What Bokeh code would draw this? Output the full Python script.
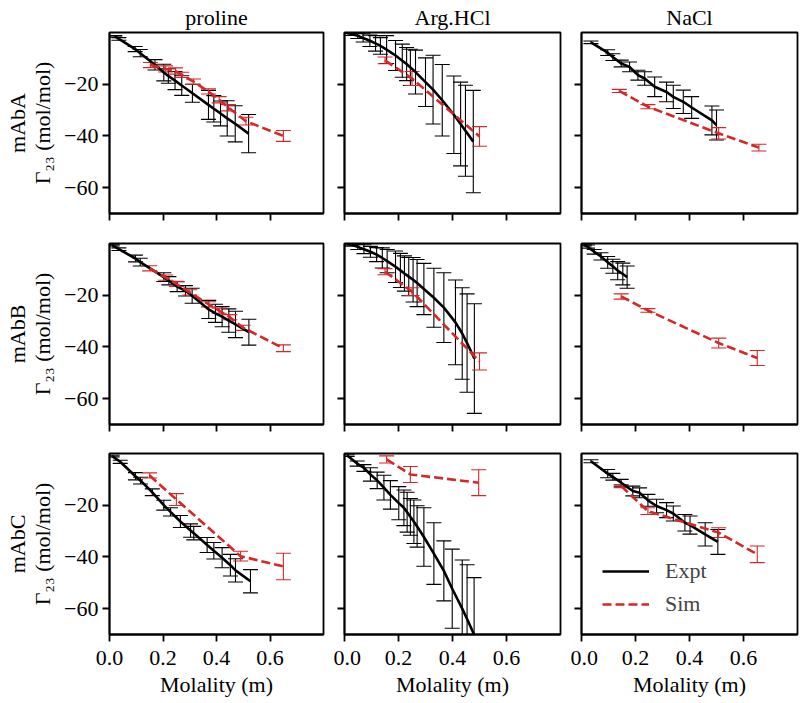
from bokeh.plotting import figure
from bokeh.layouts import gridplot
from bokeh.models import (Range1d, FixedTicker, CustomJSTickFormatter, Legend, LegendItem)
from bokeh.embed import file_html
from bokeh.resources import INLINE

FONT = "Liberation Serif"
FS = "22px"
RED = "#d62728"

solutes = ["proline", "Arg.HCl", "NaCl"]
mabs = ["mAbA", "mAbB", "mAbC"]
x_ticks = [0.0, 0.2, 0.4, 0.6]
y_ticks = [-60, -40, -20]
x_label = "Molality (m)"
y_unit = "Γ₂₃ (mol/mol)"

# ---------------- proline ----------------
pro_A_expt_x = [0.02, 0.035, 0.096, 0.115, 0.17, 0.203, 0.22, 0.245, 0.27, 0.31, 0.37, 0.39, 0.415, 0.44, 0.47, 0.52]
pro_A_expt_y = [-1.5, -2.5, -6.4, -8.0, -12.5, -15.5, -16.8, -18.6, -20.5, -23.5, -28.0, -29.5, -31.3, -33.2, -35.3, -39.1]
pro_A_expt_e = [0.3, 0.5, 1.0, 1.4, 2.0, 3.2, 2.8, 3.5, 3.8, 3.5, 5.6, 5.1, 4.8, 6.8, 7.0, 7.4]
pro_A_sim_x = [0.153, 0.21, 0.247, 0.27, 0.314, 0.37, 0.41, 0.445, 0.51, 0.65]
pro_A_sim_y = [-12.6, -14.1, -14.9, -16.4, -19.0, -22.8, -26.0, -29.1, -34.3, -40.0]
pro_A_sim_e = [1.0, 1.2, 1.2, 1.0, 1.0, 1.0, 1.2, 1.2, 1.5, 2.1]

pro_B_expt_x = [0.01, 0.035, 0.097, 0.115, 0.203, 0.222, 0.253, 0.284, 0.309, 0.371, 0.396, 0.421, 0.446, 0.471, 0.521]
pro_B_expt_y = [-0.6, -2.2, -5.8, -7.2, -13.0, -14.4, -16.7, -18.3, -20.2, -25.5, -27.0, -28.3, -29.8, -31.3, -34.3]
pro_B_expt_e = [0.3, 0.5, 1.3, 1.5, 1.7, 1.6, 1.9, 2.0, 2.9, 3.5, 3.5, 3.9, 4.5, 5.1, 5.0]
pro_B_sim_x = [0.15, 0.21, 0.25, 0.3, 0.37, 0.41, 0.45, 0.5, 0.65]
pro_B_sim_y = [-9.6, -13.2, -15.6, -18.9, -23.5, -26.0, -28.5, -32.6, -40.5]
pro_B_sim_e = [1.0, 1.0, 1.0, 1.0, 1.0, 1.0, 1.0, 1.0, 1.3]

pro_C_expt_x = [0.01, 0.04, 0.097, 0.116, 0.16, 0.203, 0.228, 0.265, 0.303, 0.315, 0.365, 0.39, 0.421, 0.452, 0.471, 0.527]
pro_C_expt_y = [-1.0, -3.2, -8.8, -10.5, -15.0, -20.0, -22.6, -26.3, -29.8, -30.8, -35.4, -37.6, -40.3, -43.2, -45.2, -49.4]
pro_C_expt_e = [0.3, 0.6, 1.4, 1.3, 1.3, 1.9, 1.6, 2.3, 2.6, 2.6, 2.9, 3.2, 3.9, 4.2, 4.5, 4.5]
pro_C_sim_x = [0.15, 0.25, 0.49, 0.65]
pro_C_sim_y = [-8.5, -17.8, -39.7, -43.7]
pro_C_sim_e = [1.0, 2.3, 1.9, 5.1]

# ---------------- Arg.HCl ----------------
arg_A_expt_x = [0.01, 0.028, 0.049, 0.069, 0.094, 0.115, 0.133, 0.156, 0.189, 0.214, 0.23, 0.244, 0.263, 0.30, 0.328, 0.362, 0.405, 0.43, 0.448, 0.477]
arg_A_expt_y = [-0.2, -0.7, -1.3, -2.1, -3.2, -4.2, -5.2, -6.6, -8.9, -10.9, -12.2, -13.5, -15.3, -19.2, -22.1, -26.2, -31.8, -35.4, -38.0, -42.2]
arg_A_expt_e = [0.2, 0.4, 1.0, 1.6, 2.2, 3.0, 3.2, 5.4, 5.8, 6.4, 6.4, 7.0, 8.5, 9.4, 13.3, 13.8, 15.0, 16.2, 17.6, 19.8]
arg_A_sim_x = [0.15, 0.25, 0.5]
arg_A_sim_y = [-10.8, -17.8, -40.2]
arg_A_sim_e = [1.3, 2.7, 3.8]

arg_B_expt_x = [0.012, 0.028, 0.049, 0.072, 0.096, 0.119, 0.14, 0.158, 0.189, 0.207, 0.222, 0.238, 0.254, 0.269, 0.294, 0.331, 0.368, 0.411, 0.436, 0.454, 0.481]
arg_B_expt_y = [-0.2, -0.6, -1.3, -2.2, -3.2, -4.3, -5.6, -6.8, -9.0, -10.4, -11.6, -12.8, -14.0, -15.3, -17.6, -21.0, -24.8, -30.5, -34.8, -38.5, -44.5]
arg_B_expt_e = [0.4, 0.4, 1.0, 1.7, 2.1, 2.7, 3.9, 4.5, 6.1, 6.6, 6.8, 7.4, 8.6, 9.1, 9.9, 11.4, 13.5, 16.4, 17.7, 19.0, 21.2]
arg_B_sim_x = [0.15, 0.25, 0.5]
arg_B_sim_y = [-10.9, -18.6, -45.6]
arg_B_sim_e = [1.2, 1.5, 3.3]

arg_C_expt_x = [0.01, 0.047, 0.072, 0.096, 0.121, 0.146, 0.17, 0.201, 0.22, 0.232, 0.244, 0.257, 0.269, 0.294, 0.331, 0.368, 0.399, 0.436, 0.454, 0.48]
arg_C_expt_y = [-0.8, -3.9, -5.6, -8.1, -10.4, -13.2, -16.0, -19.2, -21.0, -22.7, -24.5, -26.4, -28.2, -32.3, -38.7, -45.4, -52.3, -60.0, -64.0, -70.0]
arg_C_expt_e = [0.3, 1.0, 1.3, 2.6, 3.2, 4.8, 5.5, 6.4, 6.9, 7.7, 7.1, 8.4, 8.0, 11.3, 11.9, 11.6, 15.3, 18.8, 21.0, 22.0]
arg_C_sim_x = [0.156, 0.244, 0.497]
arg_C_sim_y = [-2.3, -8.1, -11.3]
arg_C_sim_e = [1.4, 3.1, 5.0]

# ---------------- NaCl ----------------
nacl_A_expt_x = [0.035, 0.097, 0.116, 0.147, 0.178, 0.209, 0.234, 0.271, 0.315, 0.34, 0.377, 0.408, 0.483, 0.5]
nacl_A_expt_y = [-3.8, -7.8, -9.5, -12.0, -13.3, -16.5, -17.8, -21.0, -23.0, -24.9, -26.8, -29.0, -34.0, -35.8]
nacl_A_expt_e = [0.5, 1.1, 1.3, 1.3, 1.9, 1.9, 2.6, 3.8, 3.8, 4.5, 4.5, 4.2, 5.6, 5.8]
nacl_A_sim_x = [0.14, 0.246, 0.508, 0.657]
nacl_A_sim_y = [-22.6, -28.7, -39.0, -44.5]
nacl_A_sim_e = [0.6, 0.8, 2.2, 1.3]

nacl_B_expt_x = [0.01, 0.022, 0.047, 0.072, 0.097, 0.116, 0.134, 0.153, 0.169]
nacl_B_expt_y = [-0.6, -1.2, -3.2, -5.0, -7.3, -8.8, -10.5, -11.8, -13.0]
nacl_B_expt_e = [0.3, 0.6, 0.9, 1.4, 2.3, 2.7, 3.5, 4.2, 4.3]
nacl_B_sim_x = [0.147, 0.246, 0.508, 0.651]
nacl_B_sim_y = [-20.5, -25.9, -38.5, -44.3]
nacl_B_sim_e = [1.0, 0.7, 1.9, 2.9]

nacl_C_expt_x = [0.035, 0.097, 0.116, 0.147, 0.19, 0.215, 0.246, 0.278, 0.315, 0.34, 0.383, 0.402, 0.458, 0.505]
nacl_C_expt_y = [-3.0, -7.8, -9.0, -11.3, -14.5, -15.2, -18.1, -20.3, -21.9, -23.2, -26.8, -27.7, -31.3, -34.2]
nacl_C_expt_e = [0.6, 1.6, 1.3, 1.3, 1.9, 1.9, 2.3, 2.6, 2.9, 2.9, 3.2, 3.5, 4.5, 4.8]
nacl_C_sim_x = [0.147, 0.246, 0.508, 0.651]
nacl_C_sim_y = [-12.6, -22.3, -30.6, -39.0]
nacl_C_sim_e = [0.6, 1.3, 1.9, 3.2]

panels = [
    [(pro_A_expt_x, pro_A_expt_y, pro_A_expt_e, pro_A_sim_x, pro_A_sim_y, pro_A_sim_e),
     (arg_A_expt_x, arg_A_expt_y, arg_A_expt_e, arg_A_sim_x, arg_A_sim_y, arg_A_sim_e),
     (nacl_A_expt_x, nacl_A_expt_y, nacl_A_expt_e, nacl_A_sim_x, nacl_A_sim_y, nacl_A_sim_e)],
    [(pro_B_expt_x, pro_B_expt_y, pro_B_expt_e, pro_B_sim_x, pro_B_sim_y, pro_B_sim_e),
     (arg_B_expt_x, arg_B_expt_y, arg_B_expt_e, arg_B_sim_x, arg_B_sim_y, arg_B_sim_e),
     (nacl_B_expt_x, nacl_B_expt_y, nacl_B_expt_e, nacl_B_sim_x, nacl_B_sim_y, nacl_B_sim_e)],
    [(pro_C_expt_x, pro_C_expt_y, pro_C_expt_e, pro_C_sim_x, pro_C_sim_y, pro_C_sim_e),
     (arg_C_expt_x, arg_C_expt_y, arg_C_expt_e, arg_C_sim_x, arg_C_sim_y, arg_C_sim_e),
     (nacl_C_expt_x, nacl_C_expt_y, nacl_C_expt_e, nacl_C_sim_x, nacl_C_sim_y, nacl_C_sim_e)],
]

y_fmt = CustomJSTickFormatter(code="return tick < 0 ? '\u2212' + Math.abs(tick) : '' + tick;")
x_fmt = CustomJSTickFormatter(code="return tick.toFixed(1);")
blank_fmt = CustomJSTickFormatter(code="return '';")

FW = [214, 216, 216]
BL = [109, 11, 11]
BR = [10, 10, 2]
BT = [30, 15, 15]
BB = [15, 14, 55]


def errorbars(p, xs, ys, es, color):
    lo = [y - e for y, e in zip(ys, es)]
    hi = [y + e for y, e in zip(ys, es)]
    p.segment(x0=xs, y0=lo, x1=xs, y1=hi, line_color=color, line_width=1.1)
    p.scatter(x=xs + xs, y=lo + hi, marker="dash", size=15, line_color=color, line_width=1.1)


figs = []
for r in range(3):
    row_figs = []
    for c in range(3):
        p = figure(frame_width=FW[c], frame_height=181,
                   x_range=Range1d(0, 0.8), y_range=Range1d(-70, 0),
                   output_backend="svg", toolbar_location=None, tools="",
                   min_border_left=BL[c], min_border_right=BR[c],
                   min_border_top=BT[r], min_border_bottom=BB[r],
                   background_fill_color="white", border_fill_color="white")
        p.grid.visible = False
        p.outline_line_color = "black"
        p.outline_line_width = 1.8
        for ax in [p.xaxis[0], p.yaxis[0]]:
            ax.axis_line_width = 1.8
            ax.axis_line_color = "black"
            ax.major_tick_line_width = 1.8
            ax.major_tick_line_color = "black"
            ax.major_tick_out = 7
            ax.major_tick_in = 0
            ax.minor_tick_line_color = None
            ax.major_label_text_font = FONT
            ax.major_label_text_font_size = FS
            ax.major_label_text_color = "black"
            ax.major_label_standoff = 4
            ax.axis_label_text_font = FONT
            ax.axis_label_text_font_size = FS
            ax.axis_label_text_font_style = "normal"
            ax.axis_label_text_color = "black"
            ax.axis_label_text_line_height = 1.0
        p.xaxis.ticker = FixedTicker(ticks=x_ticks)
        p.yaxis.ticker = FixedTicker(ticks=y_ticks)
        if r == 2:
            p.xaxis.formatter = x_fmt
            p.xaxis.axis_label = x_label
            p.xaxis.major_label_standoff = 9
            p.xaxis.axis_label_standoff = 4
        else:
            p.xaxis.formatter = blank_fmt
            p.xaxis.major_label_standoff = 0
        if c == 0:
            p.yaxis.formatter = y_fmt
            p.yaxis.axis_label = mabs[r] + "\n" + y_unit
            p.yaxis.axis_label_standoff = 6
        else:
            p.yaxis.formatter = blank_fmt
            p.yaxis.major_label_standoff = 0
        if r == 0:
            p.title.text = solutes[c]
            p.title.align = "center"
            p.title.text_font = FONT
            p.title.text_font_size = FS
            p.title.text_font_style = "normal"
            p.title.text_color = "black"
            p.title.standoff = 5

        ex, ey, ee, sx, sy, se = panels[r][c]
        errorbars(p, ex, ey, ee, "black")
        errorbars(p, sx, sy, se, RED)
        l_expt = p.line(ex, ey, line_color="black", line_width=2.6)
        l_sim = p.line(sx, sy, line_color=RED, line_width=2.6, line_dash="9 4")

        if r == 2 and c == 2:
            legend = Legend(items=[LegendItem(label="Expt", renderers=[l_expt]),
                                   LegendItem(label="Sim", renderers=[l_sim])],
                            location=(21, 17), border_line_color=None,
                            background_fill_alpha=0, label_text_font=FONT,
                            label_text_font_size=FS, glyph_width=47,
                            glyph_height=20, label_standoff=16, spacing=7,
                            padding=8, margin=0)
            p.add_layout(legend)
        row_figs.append(p)
    figs.append(row_figs)

grid = gridplot(figs, toolbar_location=None)

open("out.html", "w").write(file_html(grid, INLINE))
